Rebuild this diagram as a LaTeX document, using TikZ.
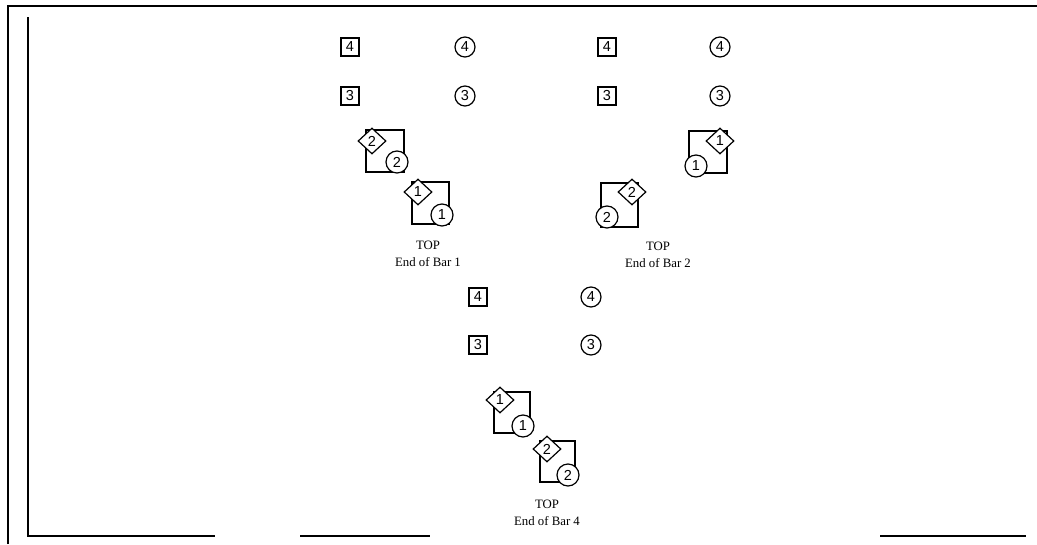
\documentclass[tikz,border=0pt]{standalone}
\usepackage{fontspec}
\setmainfont{Liberation Serif}
\newfontfamily\numfont{Liberation Sans}
\usetikzlibrary{shapes.geometric}
\begin{document}
\begin{tikzpicture}[x=1pt,y=-1pt,
  numf/.style={font=\numfont\fontsize{14.5}{14.5}\selectfont},
  sq/.style={draw,line width=1.2pt,minimum size=18pt,inner sep=0pt,numf},
  ci/.style={draw,circle,line width=1.2pt,minimum size=22pt,inner sep=0pt,fill=white,numf},
  di/.style={draw,diamond,line width=1.2pt,minimum width=28pt,minimum height=26pt,inner sep=0pt,fill=white,numf},
  br/.style={line width=1.2pt},
  lab/.style={align=center,font=\fontsize{12.8}{16.5}\selectfont,inner sep=0pt},
  frame/.style={line width=1.5pt}]
\useasboundingbox (0,0) rectangle (1037,544);
% frame
\draw[frame,line width=2pt] (8,544) -- (8,6);
\draw[frame,line width=2pt] (7,6) -- (1037,6);
\draw[frame] (28,17) -- (28,536) -- (215,536);
\draw[frame] (300,536) -- (430,536);
\draw[frame] (880,536) -- (1026,536);
% ---------- group 1 ----------
\node[sq] (s14) at (350,47) {4};
\node[ci,minimum size=20pt] (o14) at (465,47) {4};
\node[sq] (s13) at (350,96) {3};
\node[ci,minimum size=20pt] (o13) at (465,96) {3};
\draw[br] (366,130) rectangle (404,172);
\node[di] (d12) at (372,141) {2};
\node[ci] (c12) at (397,162) {2};
\draw[br] (412,182) rectangle (449,224);
\node[di] (d11) at (418,192) {1};
\node[ci] (c11) at (442,215) {1};
\node[lab] (t1) at (428,254) {TOP\\End of Bar 1};
% ---------- group 2 ----------
\node[sq] (s24) at (607,47) {4};
\node[ci,minimum size=20pt] (o24) at (720,47) {4};
\node[sq] (s23) at (607,96) {3};
\node[ci,minimum size=20pt] (o23) at (720,96) {3};
\draw[br] (689,131) rectangle (727,173);
\node[di] (d21) at (720,141) {1};
\node[ci] (c21) at (696,166) {1};
\draw[br] (601,183) rectangle (638,227);
\node[di] (d22) at (632,192) {2};
\node[ci] (c22) at (607,217) {2};
\node[lab] (t2) at (658,255) {TOP\\End of Bar 2};
% ---------- group 3 ----------
\node[sq] (s34) at (478,297) {4};
\node[ci,minimum size=20pt] (o34) at (591,297) {4};
\node[sq] (s33) at (478,345) {3};
\node[ci,minimum size=20pt] (o33) at (591,345) {3};
\draw[br] (494,392) rectangle (530,433);
\node[di] (d31) at (500,400) {1};
\node[ci] (c31) at (523,426) {1};
\draw[br] (540,441) rectangle (575,482);
\node[di] (d32) at (547,449) {2};
\node[ci] (c32) at (568,475) {2};
\node[lab] (t3) at (547,513) {TOP\\End of Bar 4};
\end{tikzpicture}
\end{document}
